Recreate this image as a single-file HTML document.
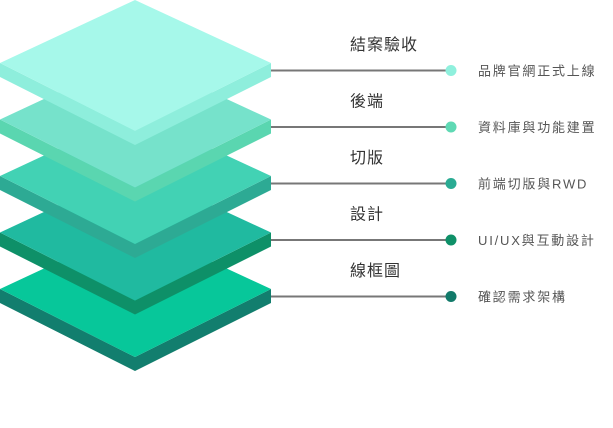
<!DOCTYPE html>
<html><head><meta charset="utf-8"><style>
html,body{margin:0;padding:0;background:#fff;}
svg{display:block}
text{font-family:"Liberation Sans","Noto Sans CJK TC",sans-serif;}
.t{font-size:16px;fill:#333;letter-spacing:1px}
.d{font-size:13px;fill:#555;letter-spacing:1.8px}
</style></head><body>
<svg width="613" height="428" viewBox="0 0 613 428" xmlns="http://www.w3.org/2000/svg">
<g id="layers">
<!-- layer 5 (bottom) offset 226 -->
<g transform="translate(0,226)">
<polygon points="0,63 135,131 271,63 271,77 135,145 0,77" fill="#127e6e"/>
<polygon points="135,0 271,63 135,131 0,63" fill="#07c79a"/>
</g>
<g transform="translate(0,169.5)">
<polygon points="0,63 135,131 271,63 271,77 135,145 0,77" fill="#0e9068"/>
<polygon points="135,0 271,63 135,131 0,63" fill="#20baa0"/>
</g>
<g transform="translate(0,113)">
<polygon points="0,63 135,131 271,63 271,77 135,145 0,77" fill="#2daa94"/>
<polygon points="135,0 271,63 135,131 0,63" fill="#42d2b4"/>
</g>
<g transform="translate(0,56.5)">
<polygon points="0,63 135,131 271,63 271,77 135,145 0,77" fill="#5ad6b0"/>
<polygon points="135,0 271,63 135,131 0,63" fill="#76e2cb"/>
</g>
<g>
<polygon points="0,63 135,131 271,63 271,77 135,145 0,77" fill="#8eeedc"/>
<polygon points="135,0 271,63 135,131 0,63" fill="#a6f8ea"/>
</g>
</g>
<g stroke="#777" stroke-width="2">
<line x1="271" y1="70.5" x2="451" y2="70.5"/>
<line x1="271" y1="127" x2="451" y2="127"/>
<line x1="271" y1="183.5" x2="451" y2="183.5"/>
<line x1="271" y1="240" x2="451" y2="240"/>
<line x1="271" y1="296.5" x2="451" y2="296.5"/>
</g>
<circle cx="451" cy="70.5" r="5.5" fill="#8ff0dd"/>
<circle cx="451" cy="127" r="5.5" fill="#5fd9b4"/>
<circle cx="451" cy="183.5" r="5.5" fill="#2aab93"/>
<circle cx="451" cy="240" r="5.5" fill="#0e9068"/>
<circle cx="451" cy="296.5" r="5.5" fill="#127a6a"/>
<text class="t" x="350" y="50">結案驗收</text>
<text class="t" x="350" y="106.5">後端</text>
<text class="t" x="350" y="163">切版</text>
<text class="t" x="350" y="219.5">設計</text>
<text class="t" x="350" y="276">線框圖</text>
<text class="d" x="478" y="75.5">品牌官網正式上線</text>
<text class="d" x="478" y="132">資料庫與功能建置</text>
<text class="d" x="478" y="188.5">前端切版與RWD</text>
<text class="d" x="478" y="245">UI/UX與互動設計</text>
<text class="d" x="478" y="301.5">確認需求架構</text>
</svg>
</body></html>
